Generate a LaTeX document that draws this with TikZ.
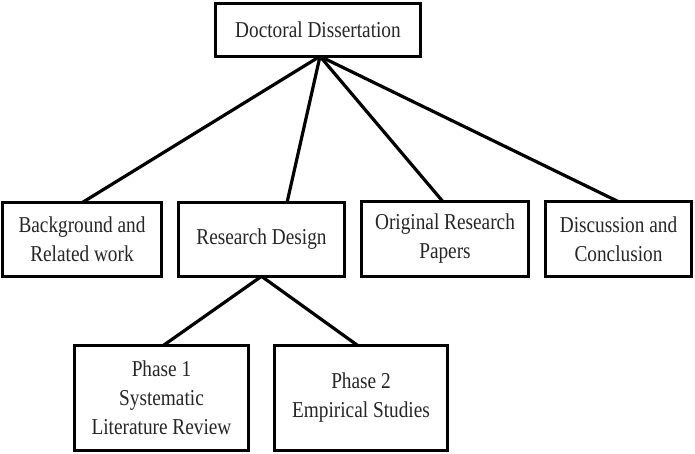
\documentclass[tikz,border=0pt]{standalone}
\usepackage{fontspec}
\setmainfont[FakeStretch=0.85]{Liberation Serif}
\begin{document}
\begin{tikzpicture}[x=1pt,y=-1pt,
  box/.style={draw=black, line width=3.4pt, fill=white, inner sep=0pt, outer sep=0pt,
    align=center, font=\fontsize{22.7pt}{29pt}\selectfont, text=black!85},
  link/.style={draw=black, line width=3.2pt}]
\useasboundingbox (0,0) rectangle (695,453);
\node[box, minimum width=204.6pt, minimum height=52.6pt] (top) at (318,30) {Doctoral Dissertation};
\node[box, minimum width=158.6pt, minimum height=73.6pt] (b1) at (82,239.5) {Background and\\Related work};
\node[box, minimum width=165.6pt, minimum height=73.6pt] (b2) at (261.5,239.5) {Research Design};
\node[box, minimum width=166.6pt, minimum height=74.6pt] (b3) at (445,239) {Original Research\\Papers};
\node[box, minimum width=145.6pt, minimum height=74.6pt] (b4) at (618.5,239) {Discussion and\\Conclusion};
\node[box, minimum width=173.6pt, minimum height=104.6pt] (p1) at (161.5,398) {Phase 1\\Systematic\\Literature Review};
\node[box, minimum width=172.6pt, minimum height=104.6pt] (p2) at (361,398) {Phase 2\\Empirical Studies};
\coordinate (apex) at ([xshift=2pt]top.south);
\draw[link] (apex) -- (b1.north);
\draw[link] (apex) -- ([xshift=25.5pt]b2.north);
\draw[link] (apex) -- ([xshift=-2pt]b3.north);
\draw[link] (apex) -- (b4.north);
\draw[link] (b2.south) -- ([xshift=1.5pt]p1.north);
\draw[link] (b2.south) -- ([xshift=-3pt]p2.north);
\end{tikzpicture}
\end{document}
